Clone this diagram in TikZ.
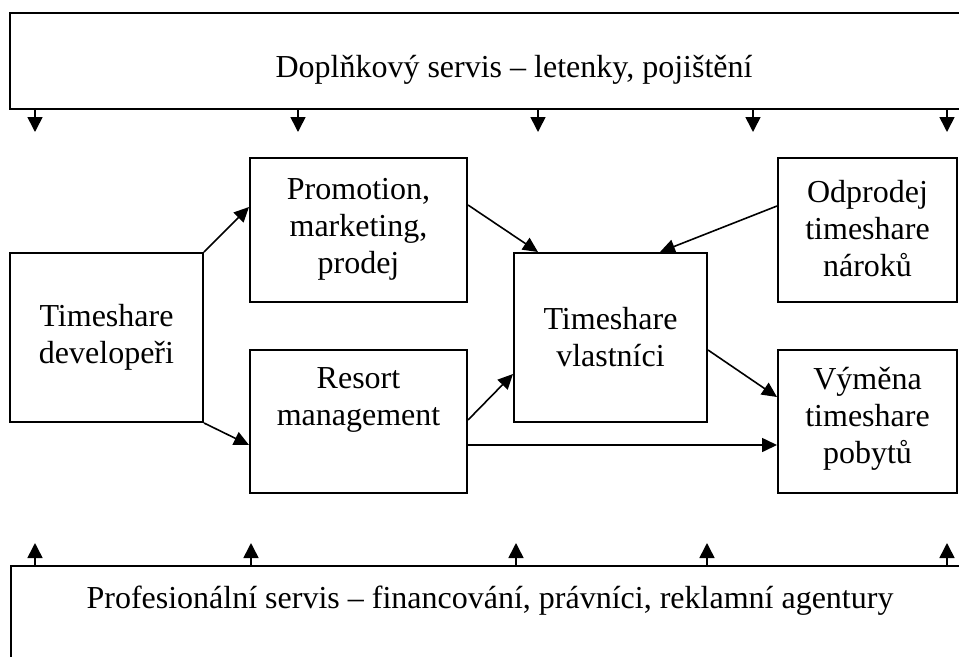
\documentclass[tikz,border=0pt]{standalone}
\usepackage{fontspec}
\setmainfont{Liberation Serif}
\usetikzlibrary{arrows.meta,calc}
\begin{document}
\begin{tikzpicture}[x=1pt,y=-1pt,
  box/.style={draw,line width=2pt,rectangle,inner sep=0pt},
  txt/.style={font=\fontsize{32}{37}\selectfont,align=center,inner sep=0pt},
  arr/.style={line width=1.6pt,-{Triangle[length=15pt,width=14pt]}},
  sarr/.style={line width=1.6pt,-{Triangle[length=15pt,width=15pt]}},
  frame/.style={line width=2pt}]
\useasboundingbox (0,0) rectangle (959,657);
% top band
\draw[frame] (959,13) -- (10,13) -- (10,109) -- (58,109);
\draw[line width=1.2pt] (58,109) -- (959,109);
\node[txt] (top) at (514,70) {Doplňkový servis – letenky, pojištění};
% bottom band
\draw[frame] (959,566) -- (11,566) -- (11,657);
\node[txt] (bot) at (490,601) {Profesionální servis – financování, právníci, reklamní agentury};
% boxes
\node[box,minimum width=193pt,minimum height=169pt] (dev) at (106.5,337.5) {};
\node[txt] (devt) at (106.5,337) {Timeshare\\developeři};
\node[box,minimum width=217pt,minimum height=144pt] (prom) at (358.5,230) {};
\node[txt] (promt) at (358.5,229) {Promotion,\\marketing,\\prodej};
\node[box,minimum width=217pt,minimum height=143pt] (res) at (358.5,421.5) {};
\node[txt] (rest) at (358.5,400) {Resort\\management};
\node[box,minimum width=193pt,minimum height=169pt] (vl) at (610.5,337.5) {};
\node[txt] (vlt) at (610.5,337) {Timeshare\\vlastníci};
\node[box,minimum width=179pt,minimum height=144pt] (odp) at (867.5,230) {};
\node[txt] (odpt) at (867.5,229) {Odprodej\\timeshare\\nároků};
\node[box,minimum width=179pt,minimum height=143pt] (vym) at (867.5,421.5) {};
\node[txt] (vymt) at (867.5,419) {Výměna\\timeshare\\pobytů};
% connectors
\draw[arr] (dev.north east) -- ([yshift=23pt]prom.west);
\draw[arr] (dev.south east) -- ([yshift=-23.5pt]res.west);
\draw[arr] ([yshift=25pt]prom.east) -- ([xshift=-72.5pt]vl.north);
\draw[arr] ([yshift=24pt]odp.west) -- ([xshift=49.5pt]vl.north);
\draw[arr] ([yshift=1.5pt]res.east) -- ([yshift=-36.5pt]vl.west);
\draw[arr] ([yshift=-12.5pt]vl.east) -- ([yshift=24.5pt]vym.west);
\draw[arr] ([yshift=-23.5pt]res.east) -- ([yshift=-23.5pt]vym.west);
% top arrows
\foreach \x [count=\i] in {35,298,538,753,947}{
  \coordinate (ta\i) at (\x,109);
  \coordinate (tb\i) at (\x,132);
  \draw[sarr] (ta\i) -- (tb\i);
}
% bottom arrows
\foreach \x [count=\i] in {35,251,516,707,947}{
  \coordinate (ba\i) at (\x,566);
  \coordinate (bb\i) at (\x,543);
  \draw[sarr] (ba\i) -- (bb\i);
}
\end{tikzpicture}
\end{document}
